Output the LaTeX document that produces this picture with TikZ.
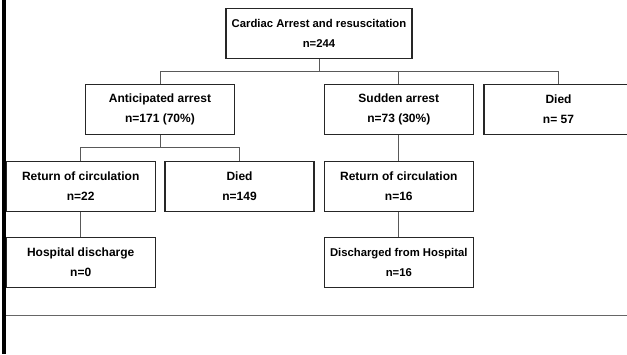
\documentclass[tikz,border=0pt]{standalone}
\usepackage{fontspec}
\setmainfont{Liberation Sans}
\begin{document}
\begin{tikzpicture}[x=1pt,y=-1pt,
    flowbox/.style={draw=black!85,line width=1.2pt,rectangle,minimum width=149pt,minimum height=50pt,
      inner sep=0pt,align=center,font=\fontsize{12}{20}\selectfont\bfseries},
    smallbox/.style={flowbox,font=\fontsize{11.3}{20}\selectfont\bfseries},
    link/.style={draw=black!65,line width=1pt}]
  \useasboundingbox (0,0) rectangle (627,354);
  \clip (0,0) rectangle (627,354);
  \node[smallbox,minimum width=186pt] (top) at (319,33.8) {Cardiac Arrest and resuscitation\\n=244};
  \node[flowbox] (antic) at (160,109.7) {Anticipated arrest\\n=171 (70\%)};
  \node[flowbox] (sudden) at (398.8,109.7) {Sudden arrest\\n=73 (30\%)};
  \node[flowbox] (died) at (558.5,109.7) {Died\\n= 57};
  \node[flowbox] (retA) at (80.7,186.4) {Return of circulation\\n=22};
  \node[flowbox] (diedA) at (239.5,186.4) {Died\\n=149};
  \node[flowbox] (retS) at (398.8,186.4) {Return of circulation\\n=16};
  \node[flowbox] (hosp) at (80.7,262.7) {Hospital discharge\\n=0};
  \node[smallbox] (disch) at (398.8,262.7) {Discharged from Hospital\\n=16};
  \coordinate (split) at (319,71);
  \coordinate (splitA) at (160,147.7);
  \draw[link] (top.south) -- (split);
  \draw[link] (split) -| (antic.north);
  \draw[link] (split) -| (sudden.north);
  \draw[link] (split) -| (died.north);
  \draw[link] (antic.south) -- (splitA);
  \draw[link] (splitA) -| (retA.north);
  \draw[link] (splitA) -| (diedA.north);
  \draw[link] (sudden.south) -- (retS.north);
  \draw[link] (retA.south) -- (hosp.north);
  \draw[link] (retS.south) -- (disch.north);
  \draw[black!60,line width=1.2pt] (6,315.7) -- (627,315.7);
  \draw[line width=4.5pt] (4,0) -- (4,354);
\end{tikzpicture}
\end{document}
